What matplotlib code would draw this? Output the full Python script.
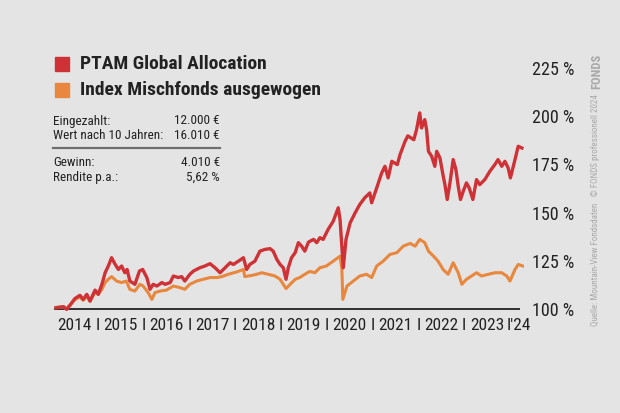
import matplotlib
matplotlib.use("Agg")
import matplotlib.pyplot as plt
from matplotlib.patches import Rectangle
from matplotlib.lines import Line2D

# fund vs. index, indexed to 100 %, x in decimal years
ptam_dates = [
    2014.09, 2014.25, 2014.32, 2014.39, 2014.50, 2014.61, 2014.68, 2014.76, 2014.83, 2014.94,
    2015.01, 2015.09, 2015.16, 2015.23, 2015.30, 2015.38, 2015.45, 2015.52, 2015.59, 2015.64,
    2015.70, 2015.81, 2015.91, 2015.98, 2016.07, 2016.14, 2016.21, 2016.29, 2016.40, 2016.47,
    2016.58, 2016.65, 2016.76, 2016.83, 2016.90, 2017.01, 2017.09, 2017.23, 2017.34, 2017.45,
    2017.56, 2017.67, 2017.78, 2017.89, 2017.96, 2018.07, 2018.18, 2018.25, 2018.32, 2018.43,
    2018.54, 2018.65, 2018.76, 2018.83, 2018.91, 2018.98, 2019.05, 2019.11, 2019.16, 2019.23,
    2019.31, 2019.38, 2019.45, 2019.52, 2019.60, 2019.71, 2019.78, 2019.85, 2019.92, 2020.03,
    2020.14, 2020.25, 2020.29, 2020.36, 2020.42, 2020.51, 2020.62, 2020.72, 2020.83, 2020.94,
    2020.98, 2021.09, 2021.20, 2021.27, 2021.34, 2021.42, 2021.54, 2021.60, 2021.71, 2021.77,
    2021.90, 2021.96, 2022.03, 2022.07, 2022.14, 2022.18, 2022.22, 2022.29, 2022.36, 2022.40,
    2022.47, 2022.55, 2022.58, 2022.63, 2022.69, 2022.76, 2022.82, 2022.87, 2022.92, 2022.98,
    2023.05, 2023.11, 2023.19, 2023.27, 2023.34, 2023.45, 2023.56, 2023.67, 2023.74, 2023.82,
    2023.89, 2023.96, 2024.01, 2024.11, 2024.18, 2024.26,
]
ptam_values = [
    100.7, 101.2, 99.8, 101.9, 105.4, 107.1, 105.0, 107.6, 104.1, 109.8,
    107.6, 112.8, 118.8, 122.3, 126.6, 123.1, 120.5, 122.3, 118.8, 120.5,
    114.5, 112.8, 119.7, 120.5, 116.3, 110.2, 112.8, 111.9, 113.7, 112.8,
    113.7, 117.1, 116.3, 116.8, 114.5, 118.0, 119.7, 121.4, 122.3, 123.5,
    121.4, 118.8, 121.4, 124.0, 123.1, 124.8, 126.6, 120.5, 123.1, 124.8,
    130.0, 130.9, 131.3, 130.0, 125.7, 123.1, 121.4, 115.4, 121.4, 126.6,
    129.2, 134.4, 132.6, 130.0, 134.7, 136.1, 134.4, 137.0, 136.1, 141.3,
    145.5, 152.5, 146.4, 121.4, 136.1, 144.7, 149.9, 154.2, 157.7, 160.2,
    155.1, 162.8, 170.6, 174.0, 168.0, 176.6, 174.9, 180.1, 187.0, 189.8,
    187.8, 193.0, 201.7, 193.9, 198.2, 193.0, 181.8, 179.2, 174.0, 181.8,
    178.4, 168.0, 164.5, 156.8, 165.4, 177.5, 172.3, 163.7, 156.8, 161.1,
    165.4, 162.8, 156.8, 167.1, 164.5, 167.1, 171.4, 174.9, 177.5, 174.0,
    176.6, 173.2, 168.0, 177.5, 184.4, 183.5,
]

index_dates = [
    2014.09, 2014.25, 2014.32, 2014.39, 2014.50, 2014.61, 2014.68, 2014.76, 2014.83, 2014.94,
    2015.01, 2015.09, 2015.16, 2015.23, 2015.30, 2015.41, 2015.52, 2015.62, 2015.70, 2015.81,
    2015.92, 2015.99, 2016.10, 2016.18, 2016.25, 2016.36, 2016.50, 2016.65, 2016.79, 2016.90,
    2017.01, 2017.16, 2017.30, 2017.45, 2017.60, 2017.71, 2017.85, 2018.03, 2018.18, 2018.21,
    2018.36, 2018.47, 2018.58, 2018.72, 2018.87, 2018.98, 2019.05, 2019.11, 2019.20, 2019.31,
    2019.41, 2019.52, 2019.63, 2019.74, 2019.85, 2019.99, 2020.14, 2020.29, 2020.33, 2020.35,
    2020.44, 2020.58, 2020.72, 2020.87, 2020.98, 2021.09, 2021.23, 2021.38, 2021.53, 2021.67,
    2021.82, 2021.93, 2022.03, 2022.14, 2022.22, 2022.33, 2022.43, 2022.54, 2022.65, 2022.76,
    2022.87, 2022.95, 2023.05, 2023.16, 2023.27, 2023.38, 2023.53, 2023.67, 2023.82, 2023.93,
    2024.00, 2024.11, 2024.18, 2024.28,
]
index_values = [
    100.7, 101.1, 100.1, 101.9, 104.8, 106.3, 104.5, 106.6, 104.0, 108.6,
    107.6, 110.2, 113.7, 115.4, 116.8, 114.5, 113.7, 114.5, 110.2, 109.3,
    112.8, 111.9, 108.5, 105.0, 108.5, 109.3, 109.8, 111.9, 111.1, 110.2,
    112.8, 114.5, 115.4, 116.3, 116.3, 116.8, 118.0, 119.2, 120.5, 116.8,
    117.4, 118.0, 118.8, 118.0, 117.1, 115.4, 112.8, 110.6, 112.8, 115.4,
    116.3, 118.0, 119.5, 118.8, 121.4, 122.3, 124.8, 127.4, 120.5, 105.0,
    111.9, 114.5, 117.1, 118.0, 116.3, 122.3, 124.8, 128.3, 129.2, 132.6,
    134.0, 132.6, 136.1, 134.4, 130.0, 127.4, 124.8, 120.5, 118.0, 124.0,
    118.8, 112.8, 115.4, 117.1, 118.8, 117.1, 118.0, 118.8, 118.8, 117.1,
    114.5, 120.5, 123.1, 122.3,
]

series_names = ["PTAM Global Allocation", "Index Mischfonds ausgewogen"]
year_labels = ["2014", "2015", "2016", "2017", "2018", "2019", "2020", "2021", "2022", "2023"]
y_ticks = [100, 125, 150, 175, 200, 225]

stats_labels = ["Eingezahlt:", "Wert nach 10 Jahren:", "Gewinn:", "Rendite p.a.:"]
stats_values = ["12.000 €", "16.010 €", "4.010 €", "5,62 %"]

RED = "#cf3236"
ORANGE = "#e8873d"
BG = "#e4e4e4"
INK = "#222222"

W, H = 620, 413
FONT = ["Roboto Condensed", "Liberation Sans Narrow", "DejaVu Sans Condensed", "DejaVu Sans"]


def fx(px):
    return px / W


def fy(py):
    """pixel row from top -> figure fraction"""
    return 1 - py / H


def make_figure():
    plt.rcParams["font.family"] = FONT
    fig = plt.figure(figsize=(W / 100, H / 100), dpi=100, facecolor=BG)
    ax = fig.add_axes([fx(52), fy(316.7), fx(471.7), (316.7 - 68) / H], facecolor=BG)

    ax.plot(index_dates, index_values, color=ORANGE, lw=2.2, solid_joinstyle="round")
    ax.plot(ptam_dates, ptam_values, color=RED, lw=2.4, solid_joinstyle="round")
    ax.hlines(100, 2014.05, 2024.22, color=INK, lw=1.3, zorder=1)

    ax.set_xlim(2014, 2024.3)
    ax.set_ylim(96, 225)
    for s in ax.spines.values():
        s.set_visible(False)

    ax.yaxis.tick_right()
    ax.set_yticks(y_ticks)
    ax.set_yticklabels([f"{v} %" for v in y_ticks])
    ax.tick_params(axis="y", length=0, pad=6, labelsize=13, labelcolor=INK)

    years = [int(y) for y in year_labels]
    ax.set_xticks([y + 0.5 for y in years] + [2024.2])
    ax.set_xticklabels(year_labels + ["I'24"])
    ax.set_xticks([y + 1 for y in years[:-1]], minor=True)
    ax.set_xticklabels(["I"] * (len(years) - 1), minor=True)
    ax.tick_params(axis="x", which="both", length=0, pad=1, labelsize=12.5, labelcolor=INK)

    # legend
    for i, (name, col) in enumerate(zip(series_names, [RED, ORANGE])):
        top = 57 + i * 26
        fig.patches.append(Rectangle((fx(55), fy(top + 14)), fx(14), 14 / H,
                                     transform=fig.transFigure, color=col))
        fig.text(fx(80), fy(top + 7), name, fontsize=14, fontweight="bold",
                 color=INK, va="center", ha="left")

    # stats box
    rows = [121, 135, 162, 177]
    for lab, val, r in zip(stats_labels, stats_values, rows):
        fig.text(fx(53), fy(r), lab, fontsize=9.5, color=INK, va="center", ha="left")
        fig.text(fx(220), fy(r), val, fontsize=9.5, color=INK, va="center", ha="right")
    fig.lines.append(Line2D([fx(53), fx(220)], [fy(148), fy(148)],
                            transform=fig.transFigure, color="#6e6e6e", lw=1.6))

    # source note on the right
    fig.text(fx(596), fy(326), "Quelle: Mountain-View Fondsdaten   \u00a9 FONDS professionell 2024",
             rotation=90, fontsize=6.5, color="#a9a9a9", ha="center", va="bottom")
    fig.text(fx(597), fy(54), "FONDS", rotation=90, fontsize=9, fontweight="bold",
             color="#a8a8a8", ha="center", va="top")

    fig.savefig("out.png", dpi=100, facecolor=BG)


def main():
    make_figure()


if __name__ == "__main__":
    main()
